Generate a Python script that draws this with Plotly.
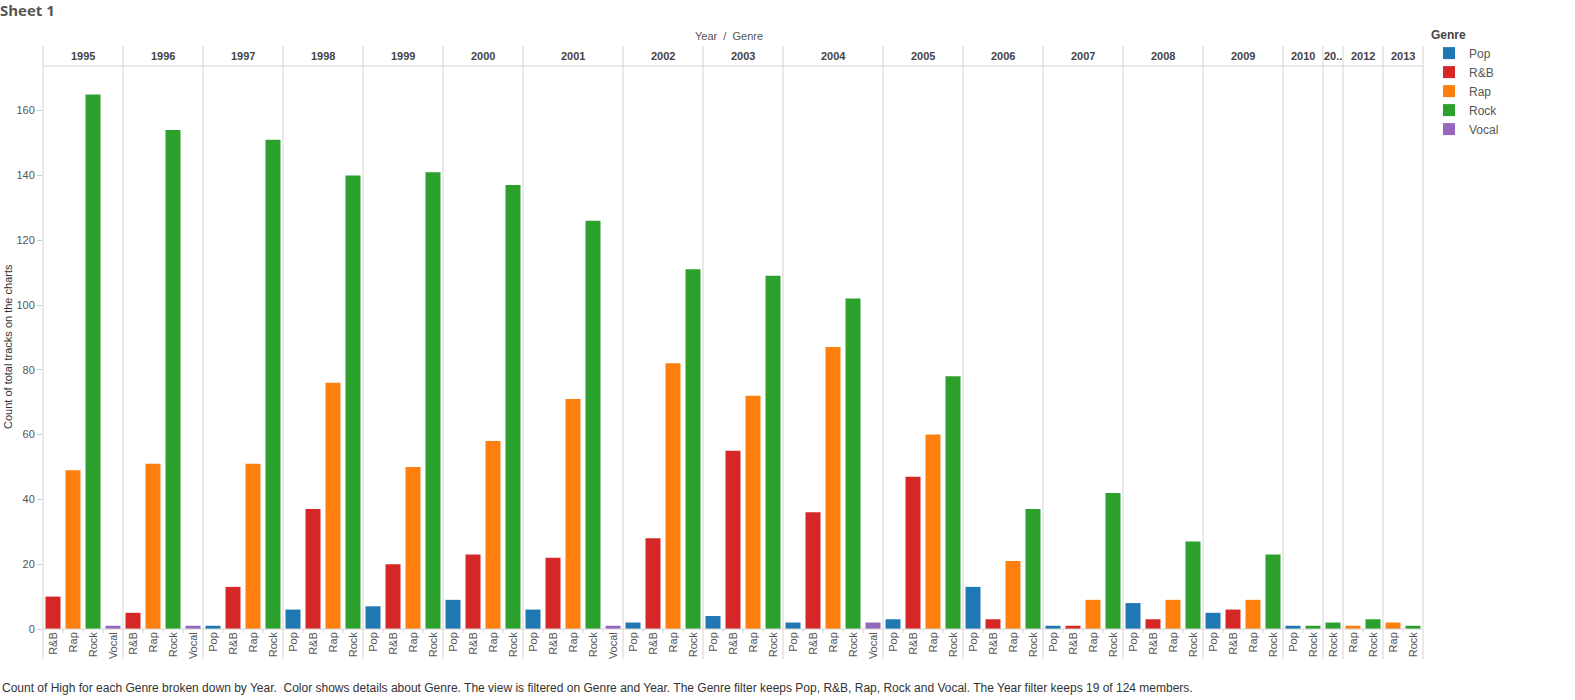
import plotly.graph_objects as go

# ---------------- data ----------------
years = ["1995", "1996", "1997", "1998", "1999", "2000", "2001", "2002", "2003", "2004",
         "2005", "2006", "2007", "2008", "2009", "2010", "2011", "2012", "2013"]
genres = ["Pop", "R&B", "Rap", "Rock", "Vocal"]
pop   = [None, None, 1, 6, 7, 9, 6, 2, 4, 2, 3, 13, 1, 8, 5, 1, None, None, None]
rnb   = [10, 5, 13, 37, 20, 23, 22, 28, 55, 36, 47, 3, 1, 3, 6, None, None, None, None]
rap   = [49, 51, 51, 76, 50, 58, 71, 82, 72, 87, 60, 21, 9, 9, 9, None, None, 1, 2]
rock  = [165, 154, 151, 140, 141, 137, 126, 111, 109, 102, 78, 37, 42, 27, 23, 1, 2, 3, 1]
vocal = [1, 1, None, None, None, None, 1, None, None, 2, None, None, None, None, None, None, None, None, None]
colors = {"Pop": "#1f77b4", "R&B": "#d62728", "Rap": "#ff7f0e", "Rock": "#2ca02c", "Vocal": "#9467bd"}
series = {"Pop": pop, "R&B": rnb, "Rap": rap, "Rock": rock, "Vocal": vocal}

caption = ("Count of High for each Genre broken down by Year.  Color shows details about Genre. "
           "The view is filtered on Genre and Year. The Genre filter keeps Pop, R&B, Rap, Rock and Vocal. "
           "The Year filter keeps 19 of 124 members.")

# ---------------- layout geometry ----------------
W, H = 1575, 700
ML, MR, MT, MB = 43, 152, 66, 71
PW = W - ML - MR
PH = H - MT - MB
PX_PER_UNIT = 3.24
YMAX = PH / PX_PER_UNIT

# slots
slot_x = {g: [] for g in genres}
slot_y = {g: [] for g in genres}
tickvals, ticktext = [], []
year_start, year_count = [], []
idx = 0
for i, yr in enumerate(years):
    year_start.append(idx)
    n = 0
    for g in genres:
        v = series[g][i]
        if v is not None:
            slot_x[g].append(idx)
            slot_y[g].append(v)
            tickvals.append(idx)
            ticktext.append(g)
            idx += 1
            n += 1
    year_count.append(n)
NSLOT = idx

fig = go.Figure()
for g in genres:
    fig.add_trace(go.Bar(
        x=slot_x[g], y=slot_y[g], name=g, marker_color=colors[g],
        marker_line_width=0, width=0.75,
    ))

def px2py(py):
    # pixel y (from top) -> paper y
    return (H - MB - py) / PH

def px2px(pxx):
    return (pxx - ML) / PW

LINE = "#d4d4d4"
shapes = []
# vertical separators at year boundaries
bounds = year_start + [NSLOT]
for b in bounds:
    xp = b / NSLOT
    shapes.append(dict(type="line", xref="paper", yref="paper", x0=xp, x1=xp,
                       y0=px2py(659), y1=px2py(46), line=dict(color=LINE, width=1)))
# header bottom line
shapes.append(dict(type="line", xref="paper", yref="paper", x0=0, x1=1, y0=1, y1=1,
                   line=dict(color=LINE, width=1)))
# baseline
shapes.append(dict(type="line", xref="paper", yref="paper", x0=0, x1=1, y0=0, y1=0,
                   line=dict(color=LINE, width=1)))
# small separators between genre slots
for s in range(1, NSLOT):
    if s in year_start:
        continue
    xp = s / NSLOT
    shapes.append(dict(type="line", xref="paper", yref="paper", x0=xp, x1=xp,
                       y0=px2py(633), y1=0, line=dict(color=LINE, width=1)))

annotations = []
for i, yr in enumerate(years):
    center = (year_start[i] + year_count[i] / 2) / NSLOT
    label = yr if year_count[i] > 1 else yr[:2] + ".."
    annotations.append(dict(text="<b>" + label + "</b>", xref="paper", yref="paper",
                            x=center, y=px2py(56), showarrow=False,
                            font=dict(size=11, color="#444"), xanchor="center", yanchor="middle"))
annotations.append(dict(text="Year  /  Genre", xref="paper", yref="paper", x=px2px(729), y=px2py(36),
                        showarrow=False, font=dict(size=11, color="#555"), xanchor="center", yanchor="middle"))
annotations.append(dict(text="Count of total tracks on the charts", xref="paper", yref="paper",
                        x=px2px(8), y=px2py(347), textangle=-90, showarrow=False,
                        font=dict(size=11, color="#333"), xanchor="center", yanchor="middle"))
annotations.append(dict(text=caption, xref="paper", yref="paper", x=px2px(0), y=px2py(688),
                        showarrow=False, font=dict(size=12, color="#333"), xanchor="left", yanchor="middle"))

fig.update_layout(
    width=W, height=H,
    margin=dict(l=ML, r=MR, t=MT, b=MB, autoexpand=False),
    paper_bgcolor="white", plot_bgcolor="white",
    font=dict(family="Liberation Sans, Arial, sans-serif", size=11, color="#555"),
    title=dict(text="<b>Sheet 1</b>", xref="container", yref="container", x=0.0, y=1 - 11 / H,
               xanchor="left", yanchor="middle",
               font=dict(family="Open Sans, DejaVu Sans, sans-serif", size=15, color="#555")),
    barmode="overlay",
    showlegend=True,
    legend=dict(title=dict(text="<b>Genre</b>", font=dict(size=12, color="#444")),
                x=px2px(1429), y=px2py(23), xanchor="left", yanchor="top",
                font=dict(size=12, color="#555"), bgcolor="rgba(0,0,0,0)",
                itemwidth=30, tracegroupgap=0),
    shapes=shapes,
    annotations=annotations,
    xaxis=dict(range=[-0.5, NSLOT - 0.5], tickmode="array", tickvals=tickvals, ticktext=ticktext,
               tickangle=-90, showgrid=False, zeroline=False, showline=False, ticks="",
               tickfont=dict(size=11, color="#555"), fixedrange=True),
    yaxis=dict(range=[0, YMAX], dtick=20, tick0=0, showgrid=False, zeroline=False, showline=False,
               ticks="outside", ticklen=5, tickcolor="#ccc", tickwidth=1,
               tickfont=dict(size=11, color="#555"), fixedrange=True),
)

fig.write_html("out.html", config={"displayModeBar": False},
               post_script="document.body.style.margin='0px';document.body.style.overflow='hidden';")
